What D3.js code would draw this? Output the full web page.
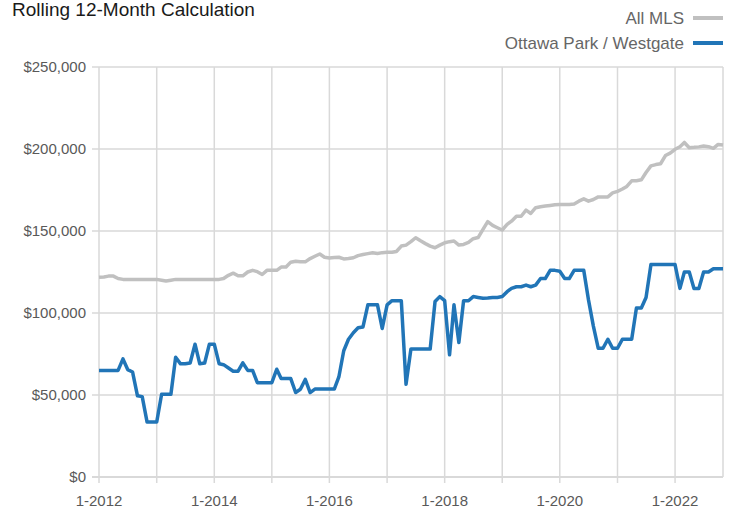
<!DOCTYPE html>
<html>
<head>
<meta charset="utf-8">
<script src="https://cdn.jsdelivr.net/npm/d3@7"></script>
<style>
  body { margin: 0; background: #fff; }
  svg { font-family: "Liberation Sans Narrow", "Arial Narrow", "Liberation Sans", sans-serif; }
</style>
</head>
<body>
<div id="chart"></div>
<script>
// monthly values, Jan 2012 .. Nov 2022
var startMonth = new Date(2012, 0, 1);

var allMls = [
  121.8, 122, 122.5, 122.5, 121, 120.5, 120.5, 120.5, 120.5, 120.5, 120.5, 120.5,
  120.5, 120, 119.5, 120, 120.5, 120.5, 120.5, 120.5, 120.5, 120.5, 120.5, 120.5,
  120.5, 120.5, 121, 123, 124.3, 122.7, 122.7, 125, 126, 125.2, 123.5, 126,
  126, 126, 128, 128, 131, 131.6, 131.2, 131.2, 133.2, 134.6, 136, 134,
  133.6, 133.8, 134, 133, 133.2, 133.7, 135, 135.7, 136.2, 136.7, 136.3, 136.8,
  137, 137, 137.5, 140.8, 141.4, 143.5, 145.9, 144, 142.3, 140.8, 139.8, 141.4,
  142.8, 143.5, 143.9, 141.4, 141.8, 143, 145.3, 146, 151, 155.7, 153.4, 152,
  150.6, 154, 156, 159, 159, 162.7, 160.7, 164.2, 164.8, 165.2, 165.6, 166,
  166.2, 166.2, 166.2, 166.5, 168.2, 169.6, 168.2, 169.2, 170.8, 170.8, 170.8, 173.2,
  174.2, 175.6, 177.2, 180.6, 180.6, 181.2, 185.7, 189.7, 190.5, 191, 196, 197.5,
  199.8, 201.4, 204, 200.8, 201, 201.3, 201.8, 201.4, 200.4, 202.8, 202.4
];

var ottawaPark = [
  65, 65, 65, 65, 65, 72, 65.5, 64, 49.5, 49, 33.5, 33.5,
  33.5, 50.5, 50.5, 50.5, 73, 69, 69, 69.5, 81, 69, 69.5, 81,
  81, 69, 68.5, 66.5, 64.5, 64.5, 69.6, 65, 65, 57.5, 57.5, 57.5,
  57.5, 65.7, 60, 60, 60, 51.5, 53.5, 59.5, 51.5, 53.6, 53.6, 53.6,
  53.6, 53.6, 61, 77, 84, 88, 91, 91.5, 105, 105, 105, 90.6,
  105, 107.5, 107.5, 107.5, 56.5, 78, 78, 78, 78, 78, 107, 110,
  107.5, 74.5, 105, 82, 107.5, 107.5, 110, 109.5, 109, 109.2, 109.5, 109.5,
  110, 113, 115, 116, 116, 117, 116, 117, 121, 121, 126, 126,
  125.5, 121, 121, 126, 126, 126, 108, 92, 78.5, 78.5, 84, 78.5,
  78.5, 84, 84, 84, 103, 103, 109.5, 129.5, 129.5, 129.5, 129.5, 129.5,
  129.5, 115, 125, 125, 115, 115, 125, 125, 127, 127, 127
];

var yTicks = [0, 50000, 100000, 150000, 200000, 250000];
var seriesNames = ["All MLS", "Ottawa Park / Westgate"];
var seriesColors = ["#c0c0c0", "#2175b7"];

var width = 733, height = 514;
var plot = {left: 99, right: 723, top: 67, bottom: 477};

var svg = d3.select("#chart").append("svg")
    .attr("width", width)
    .attr("height", height);

var months = allMls.map(function(d, i) { return d3.timeMonth.offset(startMonth, i); });

var x = d3.scaleTime()
    .domain([months[0], months[months.length - 1]])
    .range([plot.left, plot.right]);

var y = d3.scaleLinear()
    .domain([0, 250000])
    .range([plot.bottom, plot.top]);

var yearTicks = d3.timeYear.range(new Date(2012, 0, 1), new Date(2023, 0, 1));

// vertical grid (every year) with small tick below axis
svg.append("g")
  .selectAll("line")
  .data(yearTicks)
  .enter().append("line")
    .attr("x1", function(d) { return x(d); })
    .attr("x2", function(d) { return x(d); })
    .attr("y1", plot.top)
    .attr("y2", plot.bottom + 6)
    .attr("stroke", "#d9d9d9")
    .attr("stroke-width", 1.5);

// right border
svg.append("line")
    .attr("x1", plot.right).attr("x2", plot.right)
    .attr("y1", plot.top).attr("y2", plot.bottom)
    .attr("stroke", "#d9d9d9")
    .attr("stroke-width", 1.5);

// horizontal grid
svg.append("g")
  .selectAll("line")
  .data(yTicks)
  .enter().append("line")
    .attr("x1", plot.left - 7)
    .attr("x2", plot.right)
    .attr("y1", function(d) { return y(d); })
    .attr("y2", function(d) { return y(d); })
    .attr("stroke", "#d9d9d9")
    .attr("stroke-width", function(d) { return d === 0 ? 2 : 1.5; });

// y labels
svg.append("g")
  .selectAll("text")
  .data(yTicks)
  .enter().append("text")
    .attr("x", plot.left - 13)
    .attr("y", function(d) { return y(d); })
    .attr("dy", "0.35em")
    .attr("text-anchor", "end")
    .attr("fill", "#595959")
    .style("font-size", "15px")
    .text(function(d) { return d3.format("$,")(d); });

// x labels every 2 years
svg.append("g")
  .selectAll("text")
  .data(yearTicks.filter(function(d, i) { return i % 2 === 0; }))
  .enter().append("text")
    .attr("x", function(d) { return x(d); })
    .attr("y", plot.bottom + 29)
    .attr("text-anchor", "middle")
    .attr("fill", "#595959")
    .style("font-size", "15px")
    .text(function(d) { return "1-" + d.getFullYear(); });

var line = d3.line()
    .x(function(d, i) { return x(months[i]); })
    .y(function(d) { return y(d * 1000); });

[allMls, ottawaPark].forEach(function(s, k) {
  svg.append("path")
      .datum(s)
      .attr("fill", "none")
      .attr("stroke", seriesColors[k])
      .attr("stroke-width", 3.5)
      .attr("stroke-linejoin", "round")
      .attr("d", line);
});

// title
svg.append("text")
    .attr("x", 12)
    .attr("y", 16)
    .attr("fill", "#1a1a1a")
    .style("font-size", "19px")
    .text("Rolling 12-Month Calculation");

// legend
var legend = svg.append("g")
  .selectAll("g")
  .data(seriesNames)
  .enter().append("g")
    .attr("transform", function(d, i) { return "translate(0," + (18 + i * 25) + ")"; });

legend.append("text")
    .attr("x", 684)
    .attr("dy", "0.35em")
    .attr("text-anchor", "end")
    .attr("fill", "#666")
    .style("font-size", "17px")
    .text(function(d) { return d; });

legend.append("line")
    .attr("x1", 693).attr("x2", 723)
    .attr("stroke", function(d, i) { return seriesColors[i]; })
    .attr("stroke-width", 4);
</script>
</body>
</html>
